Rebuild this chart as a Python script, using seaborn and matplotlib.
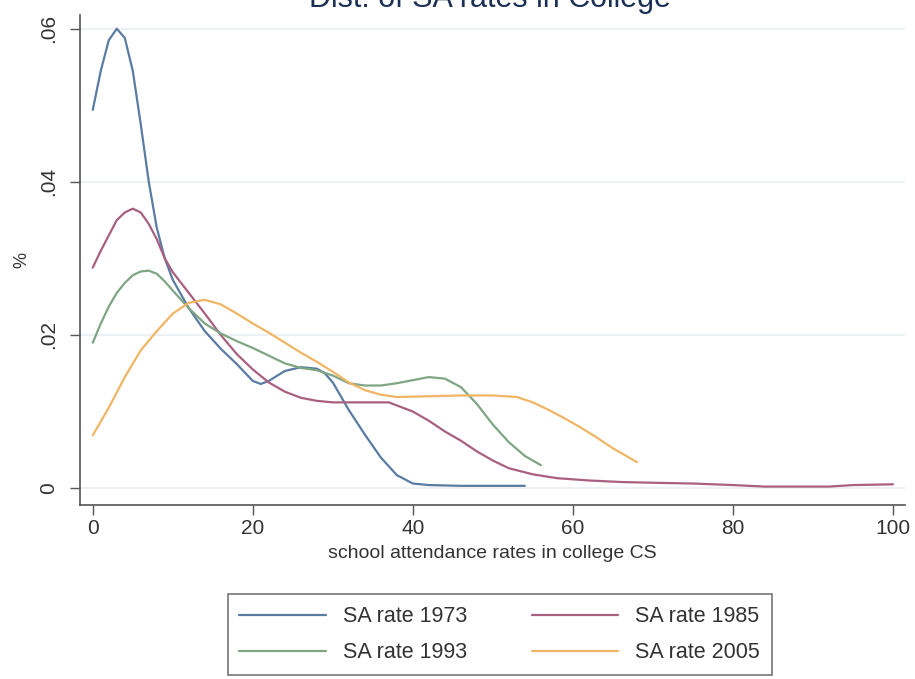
import numpy as np
import pandas as pd
import seaborn as sns
import matplotlib
matplotlib.use("Agg")
import matplotlib.pyplot as plt

# density curves (x = attendance rate, y = density)
x_1973 = [0, 1, 2, 3, 4, 5, 6, 7, 8, 9, 10, 12, 14, 16, 18, 20, 21, 22, 24, 26,
          28, 29, 30, 31, 32, 34, 36, 38, 40, 42, 46, 50, 54]
y_1973 = [0.0494, 0.0545, 0.0585, 0.0600, 0.0588, 0.0545, 0.0475, 0.0400, 0.0340,
          0.0300, 0.0272, 0.0235, 0.0205, 0.0182, 0.0162, 0.0140, 0.0136, 0.0140,
          0.0153, 0.0158, 0.0156, 0.0150, 0.0138, 0.0120, 0.0102, 0.0070, 0.0040,
          0.0017, 0.0006, 0.0004, 0.0003, 0.0003, 0.0003]

x_1985 = [0, 1, 2, 3, 4, 5, 6, 7, 8, 9, 10, 12, 14, 16, 18, 20, 22, 24, 26, 28,
          30, 34, 37, 40, 42, 44, 46, 48, 50, 52, 55, 58, 62, 66, 70, 75, 80, 84,
          88, 92, 95, 100]
y_1985 = [0.0288, 0.0310, 0.0330, 0.0350, 0.0360, 0.0365, 0.0360, 0.0345, 0.0325,
          0.0300, 0.0282, 0.0255, 0.0228, 0.0200, 0.0175, 0.0155, 0.0138, 0.0126,
          0.0118, 0.0114, 0.0112, 0.0112, 0.0112, 0.0100, 0.0088, 0.0074, 0.0062,
          0.0048, 0.0036, 0.0026, 0.0018, 0.0013, 0.0010, 0.0008, 0.0007, 0.0006,
          0.0004, 0.0002, 0.0002, 0.0002, 0.0004, 0.0005]

x_1993 = [0, 1, 2, 3, 4, 5, 6, 7, 8, 9, 10, 12, 14, 16, 18, 20, 22, 24, 26, 28,
          30, 32, 34, 36, 38, 40, 42, 44, 46, 48, 50, 52, 54, 56]
y_1993 = [0.0190, 0.0215, 0.0237, 0.0255, 0.0268, 0.0278, 0.0283, 0.0284, 0.0280,
          0.0270, 0.0258, 0.0235, 0.0215, 0.0202, 0.0192, 0.0183, 0.0173, 0.0163,
          0.0157, 0.0154, 0.0147, 0.0137, 0.0134, 0.0134, 0.0137, 0.0141, 0.0145,
          0.0143, 0.0132, 0.0110, 0.0083, 0.0060, 0.0042, 0.0030]

x_2005 = [0, 2, 4, 6, 8, 10, 12, 14, 16, 18, 20, 22, 24, 26, 28, 30, 32, 34, 36,
          38, 42, 46, 50, 53, 55, 57, 59, 61, 63, 65, 67, 68]
y_2005 = [0.0069, 0.0105, 0.0145, 0.0180, 0.0205, 0.0228, 0.0242, 0.0246, 0.0240,
          0.0228, 0.0215, 0.0203, 0.0190, 0.0177, 0.0165, 0.0152, 0.0138, 0.0128,
          0.0122, 0.0119, 0.0120, 0.0121, 0.0121, 0.0119, 0.0112, 0.0102, 0.0091,
          0.0079, 0.0066, 0.0052, 0.0040, 0.0034]

series_names = ["SA rate 1973", "SA rate 1985", "SA rate 1993", "SA rate 2005"]
line_colors = ["#5a7ca3", "#a9607f", "#7fa585", "#f0b565"]
x_ticks = [0, 20, 40, 60, 80, 100]
y_ticks = [0, 0.02, 0.04, 0.06]
y_ticklabels = ["0", ".02", ".04", ".06"]

frames = []
for name, xs, ys in zip(series_names,
                        [x_1973, x_1985, x_1993, x_2005],
                        [y_1973, y_1985, y_1993, y_2005]):
    frames.append(pd.DataFrame({"rate": xs, "density": ys, "series": name}))
df = pd.concat(frames, ignore_index=True)

sns.set_style("white")
plt.rcParams['font.family'] = ['Liberation Sans', 'DejaVu Sans']

fig = plt.figure(figsize=(9.15, 6.79), dpi=100)
ax = fig.add_axes([0.0874, 0.2563, 0.9016, 0.7217])

sns.lineplot(data=df, x="rate", y="density", hue="series", hue_order=series_names,
             palette=dict(zip(series_names, line_colors)), linewidth=1.6,
             sort=False, estimator=None, ax=ax)

ax.set_xlim(-1.6, 101.5)
ax.set_ylim(-0.0022, 0.0618)
ax.set_xticks(x_ticks)
ax.set_yticks(y_ticks)
ax.set_yticklabels(y_ticklabels, rotation=90, va="center")
ax.tick_params(axis="both", direction="out", length=7, width=1, color="#555555",
               labelsize=15, labelcolor="#333333", left=True, bottom=True)
ax.tick_params(axis="y", pad=9)
ax.tick_params(axis="x", pad=3)
ax.yaxis.grid(True, color="#eef1f3", linewidth=1.5)
ax.set_axisbelow(True)
for side in ["top", "right"]:
    ax.spines[side].set_visible(False)
for side in ["left", "bottom"]:
    ax.spines[side].set_color("#555555")
    ax.spines[side].set_linewidth(1.2)

ax.set_xlabel("school attendance rates in college CS", fontsize=14, color="#333333", labelpad=5)
ax.set_ylabel("%", fontsize=13, color="#333333", labelpad=6)

# stata-style legend below, filled row by row
handles, labels = ax.get_legend_handles_labels()
order = [labels.index(n) for n in ["SA rate 1973", "SA rate 1993", "SA rate 1985", "SA rate 2005"]]
leg = ax.legend([handles[i] for i in order], [labels[i] for i in order], ncol=2,
                loc="center", bbox_to_anchor=(0.546, 0.065), bbox_transform=fig.transFigure,
                fontsize=15.5, handlelength=4.0, columnspacing=3.0, handletextpad=0.8,
                labelspacing=0.7, fancybox=False, frameon=True, borderpad=0.55)
leg.get_frame().set_edgecolor("#555555")
leg.get_frame().set_linewidth(1.2)
for t in leg.get_texts():
    t.set_color("#333333")

# title sits mostly above the top edge in the reference
fig.text(0.535, 1 - 7 / 679, "Dist. of SA rates in College", ha="center", va="baseline",
         fontsize=22, color="#1c2f55")

fig.savefig("out.png", dpi=100)
